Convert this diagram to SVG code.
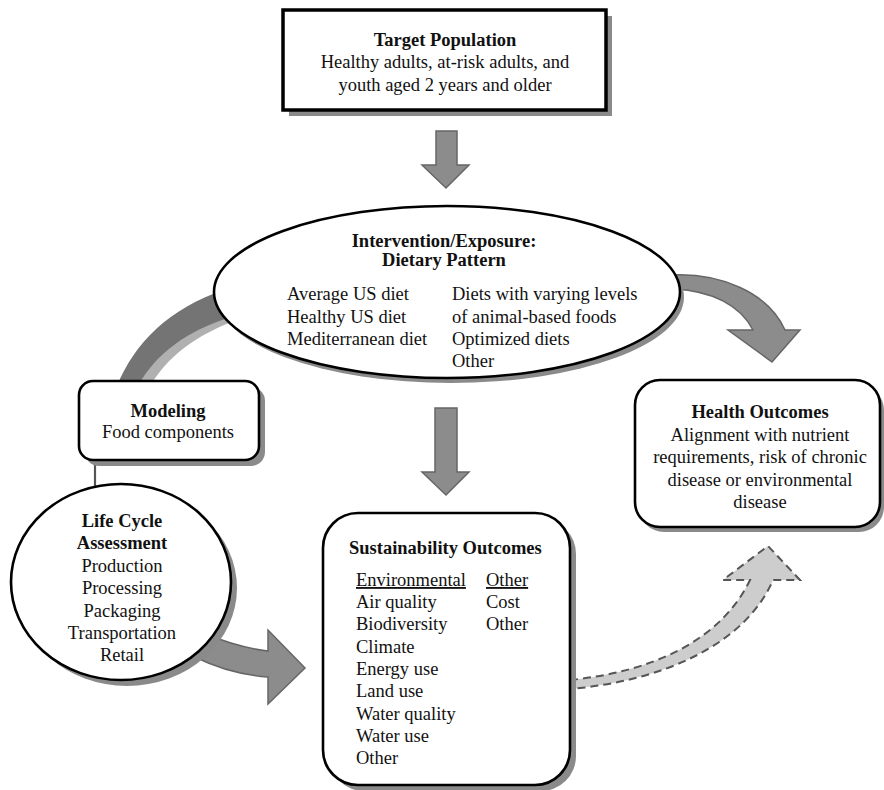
<svg xmlns="http://www.w3.org/2000/svg" width="884" height="790" viewBox="0 0 884 790">
<style>
text{font-family:"Liberation Serif","Times New Roman",serif;font-size:18.5px;fill:#111}
.b{font-weight:bold}
.c{text-anchor:middle}
.u{text-decoration:underline}
.node{fill:#fff;stroke:#000;stroke-width:2.6}
.shadow{fill:#8a8a8a;stroke:none}
.arr{fill:#8c8c8c;stroke:#666;stroke-width:1.5;stroke-linejoin:miter}
</style>
<rect width="884" height="790" fill="#fff"/>
<g id="connectors">
  <path d="M122 386 C140 344 175 312 224 292 L229 319 C192 333 162 354 144 386 Z" fill="#b0b0b0" transform="translate(5,2)"/>
  <path d="M117 386 C135 342 170 308 224 290 L228 318 C188 331 157 352 138 386 Z" fill="#747474"/>
  <line x1="95" y1="460" x2="95" y2="487" stroke="#555" stroke-width="2.2"/>
  <polygon class="arr" points="436,131 457,131 457,165 469,165 446,188 422,165 436,165"/>
  <polygon class="arr" points="435,408 457,408 457,472 469,472 446,495 422,472 435,472"/>
  <path class="arr" d="M672 275 C720 273 768 292 785 330 L800 330 L772 362 L728 330 L753 330 C740 305 712 291 674 289 Z"/>
  <path class="arr" d="M200 632 C225 642 248 649 268 651 L268 630 L305 668 L268 704 L268 677 C242 675 215 667 195 657 Z"/>
  <path d="M570 680 C650 672 720 642 750 580 L723 580 L768 546 L800 580 L773 580 C745 645 662 681 570 689 Z" fill="#cdcdcd" stroke="#555" stroke-width="2" stroke-dasharray="8,5"/>
</g>
<g id="target">
  <rect class="shadow" x="289" y="16" width="323" height="100"/>
  <rect x="283" y="10" width="323" height="100" fill="#fff" stroke="#000" stroke-width="3.5"/>
  <text class="b c" x="445" y="46">Target Population</text>
  <text class="c" x="445" y="68">Healthy adults, at-risk adults, and</text>
  <text class="c" x="445" y="91">youth aged 2 years and older</text>
</g>
<g id="intervention">
  <ellipse class="shadow" cx="451" cy="297" rx="233" ry="86"/>
  <ellipse class="node" cx="447" cy="292" rx="233" ry="86"/>
  <text class="b c" x="444" y="247">Intervention/Exposure:</text>
  <text class="b c" x="444" y="266">Dietary Pattern</text>
  <text x="287" y="300">Average US diet</text>
  <text x="287" y="323">Healthy US diet</text>
  <text x="287" y="345">Mediterranean diet</text>
  <text x="452" y="300">Diets with varying levels</text>
  <text x="452" y="323">of animal-based foods</text>
  <text x="452" y="345">Optimized diets</text>
  <text x="452" y="367">Other</text>
</g>
<g id="modeling">
  <rect class="shadow" x="85" y="387" width="180" height="79" rx="14"/>
  <rect class="node" x="79" y="381" width="180" height="79" rx="14"/>
  <text class="b c" x="168" y="417">Modeling</text>
  <text class="c" x="168" y="438">Food components</text>
</g>
<g id="lca">
  <ellipse class="shadow" cx="127" cy="588" rx="110" ry="98"/>
  <ellipse class="node" cx="121" cy="582" rx="110" ry="98"/>
  <text class="b c" x="122" y="527">Life Cycle</text>
  <text class="b c" x="122" y="549">Assessment</text>
  <text class="c" x="122" y="572">Production</text>
  <text class="c" x="122" y="594">Processing</text>
  <text class="c" x="122" y="617">Packaging</text>
  <text class="c" x="122" y="639">Transportation</text>
  <text class="c" x="122" y="661">Retail</text>
</g>
<g id="health">
  <rect class="shadow" x="639" y="385" width="245" height="147" rx="25"/>
  <rect class="node" x="635" y="380" width="245" height="147" rx="25"/>
  <text class="b c" x="760" y="418">Health Outcomes</text>
  <text class="c" x="760" y="441">Alignment with nutrient</text>
  <text class="c" x="760" y="463">requirements, risk of chronic</text>
  <text class="c" x="760" y="486">disease or environmental</text>
  <text class="c" x="760" y="508">disease</text>
</g>
<g id="sustainability">
  <rect class="shadow" x="329" y="519" width="247" height="272" rx="35"/>
  <rect class="node" x="323" y="513" width="247" height="272" rx="35"/>
  <text class="b" x="349" y="554">Sustainability Outcomes</text>
  <text class="u" x="356" y="586">Environmental</text>
  <text x="356" y="608">Air quality</text>
  <text x="356" y="630">Biodiversity</text>
  <text x="356" y="653">Climate</text>
  <text x="356" y="675">Energy use</text>
  <text x="356" y="697">Land use</text>
  <text x="356" y="720">Water quality</text>
  <text x="356" y="742">Water use</text>
  <text x="356" y="764">Other</text>
  <text class="u" x="486" y="586">Other</text>
  <text x="486" y="608">Cost</text>
  <text x="486" y="630">Other</text>
</g>
</svg>
